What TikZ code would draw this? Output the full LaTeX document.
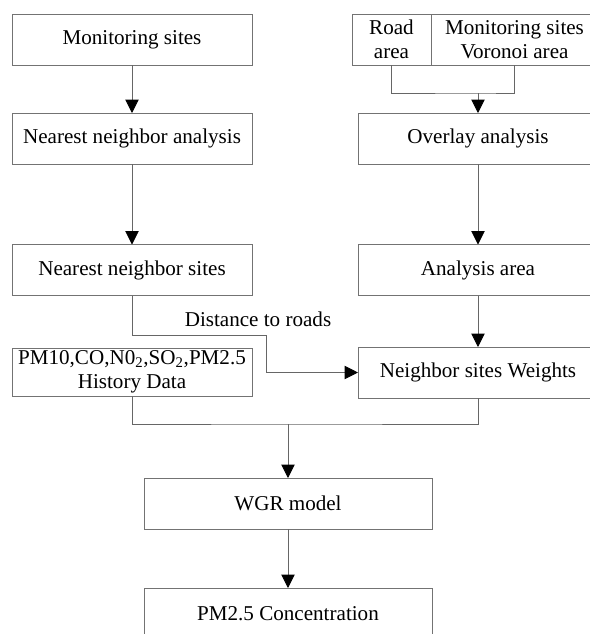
\documentclass[tikz,border=0pt]{standalone}
\usepackage{fontspec}
\setmainfont{Liberation Serif}
\usetikzlibrary{arrows.meta}
\begin{document}
\begin{tikzpicture}[
    x=0.025cm, y=-0.025cm,
    >={Triangle[length=9.5pt, width=9.5pt, color=black]},
    block/.style={draw=black!55, line width=0.6pt, rectangle, minimum width=6cm, minimum height=1.275cm, inner sep=0pt, outer sep=0pt, align=center, font=\fontsize{15}{17}\selectfont},
    wire/.style={draw=black!60, line width=0.6pt}
]
  \useasboundingbox (0,0) rectangle (590,634);

  % Left column
  \node[block] (mon) at (132,39.5) {Monitoring sites};
  \node[block] (nna) at (132,138.5) {Nearest neighbor analysis};
  \node[block] (nns) at (132,270) {Nearest neighbor sites};
  \node[block, minimum height=1.2cm] (hist) at (132,372) {PM10,CO,N0\textsubscript{2},SO\textsubscript{2},PM2.5\\History Data};

  % Right column
  \node[block, minimum width=1.975cm] (road) at (391.5,39.5) {Road\\area};
  \node[block, minimum width=4.15cm] (voro) at (514.5,39.5) {Monitoring sites\\Voronoi area};
  \node[block] (over) at (478,138.5) {Overlay analysis};
  \node[block] (area) at (478,270) {Analysis area};
  \node[block] (wts) at (478,372.5) {Neighbor sites Weights};

  % Bottom
  \node[block, minimum width=7.2cm] (wgr) at (288,503.5) {WGR model};
  \node[block, minimum width=7.2cm] (conc) at (288,613.5) {PM2.5 Concentration};

  \coordinate (join) at (478,93);
  \coordinate (bend) at (266,335);
  \coordinate (merge) at (288,424);

  \draw[wire, ->] (mon) -- (nna);
  \draw[wire, ->] (nna) -- (nns);
  \draw[wire] (road.south) |- (join) -| (voro.south);
  \draw[wire, ->] (join) -- (over);
  \draw[wire, ->] (over) -- (area);
  \draw[wire, ->] (area) -- (wts);
  \draw[wire, ->] (nns.south) |- (bend) |- (wts.west);
  \draw[wire] (hist.south) |- (merge) -| (wts.south);
  \draw[wire, ->] (merge) -- (wgr);
  \draw[wire, ->] (wgr) -- (conc);

  % Labels
  \node[font=\fontsize{15}{17}\selectfont] (dist) at (258,319) {Distance to roads};
\end{tikzpicture}
\end{document}
